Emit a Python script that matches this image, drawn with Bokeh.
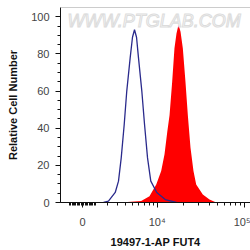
import numpy as np
from bokeh.plotting import figure
from bokeh.models import Range1d, FixedTicker, Label, Span
from bokeh.embed import file_html
from bokeh.resources import INLINE

# Logicle-like display positions (decades) of the histogram bins
blue_x = [0.239, 0.295, 0.372, 0.409, 0.440, 0.474, 0.503, 0.542, 0.568, 0.591,
          0.614, 0.636, 0.674, 0.705, 0.739, 0.776, 0.844, 0.940, 1.068]
blue_y = [0, 0.7, 5.4, 11.5, 24, 42, 60, 78, 89, 93,
          89, 78, 60, 42, 24, 11.5, 5.4, 1.6, 0]

red_x = [0.477, 0.511, 0.667, 0.761, 0.838, 0.894, 0.932, 0.963, 0.989, 1.019,
         1.045, 1.068, 1.091, 1.114, 1.140, 1.170, 1.197, 1.227, 1.261, 1.292,
         1.367, 1.443, 1.519]
red_y = [0, 0.3, 0.8, 3.4, 9.7, 17, 26, 38, 47, 65,
         83, 91, 95.7, 92, 83, 65, 47, 29.6, 17, 9.7,
         4.3, 1.6, 0]

major_values = [0, 1e4, 1e5]
major_labels = ["0", "10\u2074", "10\u2075"]
minor_values = ([-k * 100 for k in range(1, 10)] + [-1000]
                + [k * 100 for k in range(1, 10)]
                + [k * 1000 for k in range(1, 10)]
                + [k * 10000 for k in range(2, 10)])

W = 1445.0


def disp(v):
    return float(np.arcsinh(np.asarray(v) / (2 * W)) / np.log(10))


major_pos = [disp(v) for v in major_values]
minor_pos = [disp(v) for v in minor_values]

p = figure(width=250, height=250, output_backend="svg", toolbar_location=None,
           x_range=Range1d(-0.25, 1.909), y_range=Range1d(0, 105),
           min_border_left=60, min_border_right=0, min_border_top=7,
           min_border_bottom=48)
p.outline_line_color = None
p.grid.visible = False
p.background_fill_color = "white"
p.border_fill_color = "white"

# top frame line
p.add_layout(Span(location=105, dimension="width", line_color="#999999",
                  line_width=1))

wm = Label(x=-0.17, y=98.0, text="WWW.PTGLAB.COM", text_font="Liberation Sans",
           text_font_size="18px", text_font_style="italic",
           text_color="#fbfbfb", text_outline_color="#dcdcdc",
           text_baseline="middle", text_align="left")
p.add_layout(wm)

p.varea(x=red_x, y1=0, y2=red_y, fill_color="#ff0000", fill_alpha=1.0)
p.line(blue_x, blue_y, line_color="#2a2a8c", line_width=1.3)

# x axis
xa = p.xaxis[0]
xa.ticker = FixedTicker(ticks=major_pos, minor_ticks=minor_pos)
xa.major_label_overrides = {pos: lab for pos, lab in zip(major_pos, major_labels)}
xa.axis_label = "19497-1-AP FUT4"
xa.axis_label_text_font = "Liberation Sans"
xa.axis_label_text_font_style = "bold"
xa.axis_label_text_font_size = "11px"
xa.axis_label_text_color = "#111111"
xa.axis_label_standoff = 5
xa.major_label_text_font = "Liberation Sans"
xa.major_label_text_font_size = "11px"
xa.major_label_text_color = "#444444"
xa.major_label_standoff = 8
xa.major_tick_out = 5
xa.major_tick_in = 0
xa.minor_tick_out = 3
xa.minor_tick_in = 0
xa.axis_line_color = "#111111"
xa.major_tick_line_color = "#111111"
xa.minor_tick_line_color = "#111111"

# y axis
ya = p.yaxis[0]
ya.ticker = FixedTicker(ticks=[0, 20, 40, 60, 80, 100],
                        minor_ticks=list(range(0, 105, 5)))
ya.axis_label = "Relative Cell Number"
ya.axis_label_text_font = "Liberation Sans"
ya.axis_label_text_font_style = "bold"
ya.axis_label_text_font_size = "11px"
ya.axis_label_text_color = "#111111"
ya.axis_label_standoff = 9
ya.major_label_text_font = "Liberation Sans"
ya.major_label_text_font_size = "11px"
ya.major_label_text_color = "#444444"
ya.major_label_standoff = 6
ya.major_tick_out = 5
ya.major_tick_in = 0
ya.minor_tick_out = 3
ya.minor_tick_in = 0
ya.axis_line_color = "#111111"
ya.major_tick_line_color = "#111111"
ya.minor_tick_line_color = "#111111"

open("out.html", "w").write(file_html(p, INLINE))
